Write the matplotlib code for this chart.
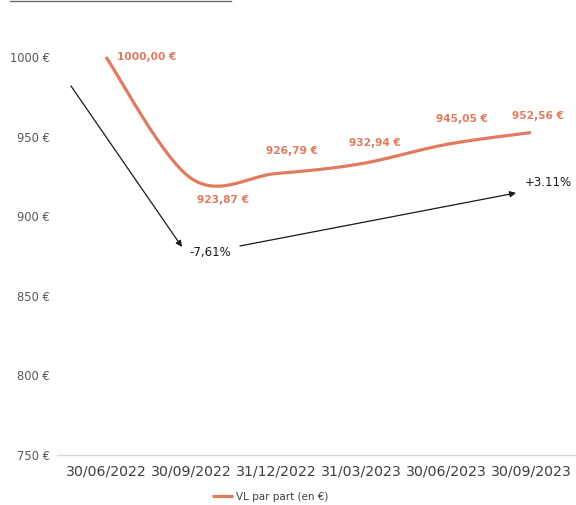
import numpy as np
import matplotlib.pyplot as plt
from matplotlib.lines import Line2D

plt.rcParams['font.family'] = ['DejaVu Sans']

# valeurs liquidatives par part
dates = ['30/06/2022', '30/09/2022', '31/12/2022', '31/03/2023', '30/06/2023', '30/09/2023']
vl = [1000.00, 923.87, 926.79, 932.94, 945.05, 952.56]
labels = ['1000,00 €', '923,87 €', '926,79 €', '932,94 €', '945,05 €', '952,56 €']
# décalage des étiquettes (pixels)
label_offsets = [(11, 0), (32, -22), (16, 23), (14, 21), (16, 25), (7, 17)]
label_ha = ['left', 'center', 'center', 'center', 'center', 'center']
yticks = [750, 800, 850, 900, 950, 1000]

orange = '#E07B5F'
grey = '#595959'


def smooth(xs, ys, n=40):
    # courbe lissée façon Excel (Bezier de Catmull-Rom)
    pts = np.column_stack([xs, ys]).astype(float)
    ext = np.vstack([pts[0], pts, pts[-1]])
    out = []
    for i in range(len(pts) - 1):
        p0, p1, p2, p3 = ext[i], ext[i + 1], ext[i + 2], ext[i + 3]
        c1 = p1 + (p2 - p0) / 6
        c2 = p2 - (p3 - p1) / 6
        t = np.linspace(0, 1, n)[:, None]
        seg = (1 - t) ** 3 * p1 + 3 * (1 - t) ** 2 * t * c1 + 3 * (1 - t) * t ** 2 * c2 + t ** 3 * p2
        out.append(seg if i == 0 else seg[1:])
    out = np.vstack(out)
    return out[:, 0], out[:, 1]


fig = plt.figure(figsize=(5.76, 5.05), dpi=100)
ax = fig.add_axes([57 / 576, 1 - 455 / 505, 1 - 57 / 576, (455 - 57) / 505])

x = np.arange(len(dates))
sx, sy = smooth(x, vl)
ax.plot(sx, sy, color=orange, lw=2.3, solid_capstyle='butt', clip_on=False,
        label='VL par part (en €)')

for xi, v, lab, off, ha in zip(x, vl, labels, label_offsets, label_ha):
    ax.annotate(lab, (xi, v), xytext=off, textcoords='offset pixels',
                ha=ha, va='center', color=orange, fontsize=7.7, fontweight='bold')

# flèches de variation
ax.annotate('', xy=(0.894, 880.7), xytext=(-0.412, 981.8),
            arrowprops=dict(arrowstyle='-|>', color='#1a1a1a', lw=0.9,
                            mutation_scale=9, shrinkA=0, shrinkB=0))
ax.annotate('', xy=(4.824, 914.6), xytext=(1.576, 881.3),
            arrowprops=dict(arrowstyle='-|>', color='#1a1a1a', lw=0.9,
                            mutation_scale=9, shrinkA=0, shrinkB=0))
ax.text(1.224, 876.9, '-7,61%', ha='center', va='center', fontsize=8.5, color='#1a1a1a')
ax.text(5.2, 920.9, '+3.11%', ha='center', va='center', fontsize=8.5, color='#1a1a1a')

ax.set_xlim(-0.576, 5.529)
ax.set_ylim(750, 1000)
ax.set_xticks(x)
ax.set_xticklabels(dates, fontsize=10.2, color='#404040')
ax.set_yticks(yticks)
ax.set_yticklabels([f'{t} €' for t in yticks], fontsize=8.3, color=grey)
ax.tick_params(axis='both', length=0)
ax.tick_params(axis='x', pad=7)
ax.tick_params(axis='y', pad=5)
for s in ['top', 'right', 'left']:
    ax.spines[s].set_visible(False)
ax.spines['bottom'].set_color('#D9D9D9')
ax.spines['bottom'].set_linewidth(1)

fig.legend(loc='center', bbox_to_anchor=(270 / 576, 1 - 497 / 505), frameon=False,
           fontsize=7.5, handlelength=2.0, handletextpad=0.3, labelcolor='#404040')

# filet du titre en haut de page
fig.add_artist(Line2D([10 / 576, 231 / 576], [1 - 0.8 / 505] * 2, color='#6b6b6b', lw=1.0))

fig.savefig('out.png', dpi=100)
